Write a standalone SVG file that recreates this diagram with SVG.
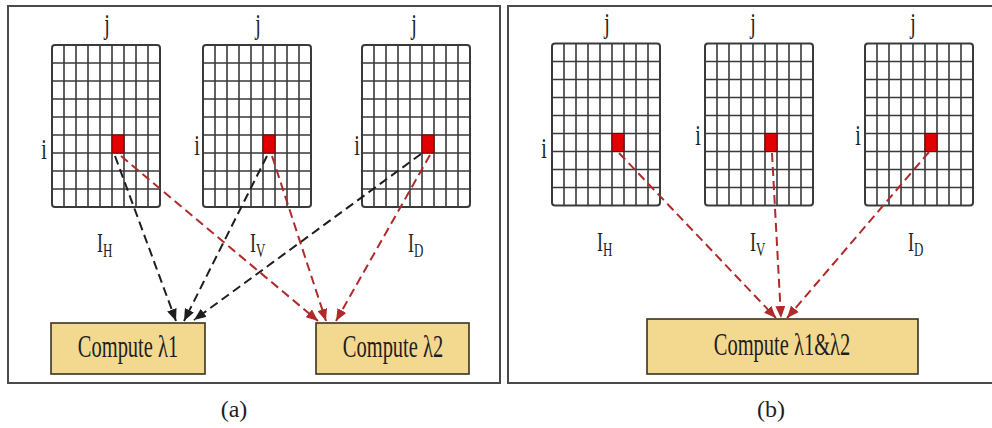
<svg xmlns="http://www.w3.org/2000/svg" xmlns:xlink="http://www.w3.org/1999/xlink" width="992" height="428" viewBox="0 0 992 428">
<style>
.frame{fill:#fff;stroke:#4a4a4a;stroke-width:2}
.gridline{fill:none;stroke:#3a3a3a;stroke-width:1.6}
.gborder{fill:#fff;stroke:#3a3a3a;stroke-width:2}
.px{fill:#e30000;stroke:#7a0000;stroke-width:1}
.t{font-family:"Liberation Serif","Times New Roman",serif;fill:#1e1e1e}
.box{fill:#f3d88f;stroke:#3a3320;stroke-width:1.6}
.blk{fill:none;stroke:#1e1e1e;stroke-width:2;stroke-dasharray:9 5}
.red{fill:none;stroke:#b02a2a;stroke-width:2;stroke-dasharray:9 5}
</style>
<defs>
<g id="grid">
<rect class="gborder" x="0" y="0" width="108" height="162" rx="3"/>
<path class="gridline" d="M12,0V162M24,0V162M36,0V162M48,0V162M60,0V162M72,0V162M84,0V162M96,0V162M0,18H108M0,36H108M0,54H108M0,72H108M0,90H108M0,108H108M0,126H108M0,144H108"/>
<rect class="px" x="60" y="90" width="12" height="18"/>
</g>
<marker id="ab" viewBox="0 0 12 10" refX="12" refY="5" markerWidth="12" markerHeight="10" markerUnits="userSpaceOnUse" orient="auto"><path d="M0,0L12,5L0,10z" fill="#1e1e1e"/></marker>
<marker id="ar" viewBox="0 0 12 10" refX="12" refY="5" markerWidth="12" markerHeight="10" markerUnits="userSpaceOnUse" orient="auto"><path d="M0,0L12,5L0,10z" fill="#b02a2a"/></marker>
</defs>

<rect class="frame" x="8" y="6" width="492" height="377"/>
<rect class="frame" x="508" y="6" width="492" height="377"/>

<g id="panel-a">
<g id="a-IH">
<use xlink:href="#grid" x="52" y="45"/>
<text class="t" font-size="20" text-anchor="middle" transform="translate(107,34) scale(1,1.5)">j</text>
<text class="t" font-size="20" text-anchor="middle" transform="translate(44,159) scale(1,1.5)">i</text>
<text class="t" font-size="18" transform="translate(97,252) scale(1,1.5)">I<tspan font-size="13" dy="3.3">H</tspan></text>
</g>
<g id="a-IV">
<use xlink:href="#grid" x="203" y="45"/>
<text class="t" font-size="20" text-anchor="middle" transform="translate(258,34) scale(1,1.5)">j</text>
<text class="t" font-size="20" text-anchor="middle" transform="translate(197,155) scale(1,1.5)">i</text>
<text class="t" font-size="18" transform="translate(250,252) scale(1,1.5)">I<tspan font-size="13" dy="3.3">V</tspan></text>
</g>
<g id="a-ID">
<use xlink:href="#grid" x="362" y="45"/>
<text class="t" font-size="20" text-anchor="middle" transform="translate(414,34) scale(1,1.5)">j</text>
<text class="t" font-size="20" text-anchor="middle" transform="translate(357,155) scale(1,1.5)">i</text>
<text class="t" font-size="18" transform="translate(408,252) scale(1,1.5)">I<tspan font-size="13" dy="3.3">D</tspan></text>
</g>
<g id="a-L1">
<rect class="box" x="51" y="323" width="154" height="51"/>
<text class="t" font-size="20.5" text-anchor="middle" transform="translate(128,357) scale(1,1.5)">Compute λ1</text>
</g>
<g id="a-L2">
<rect class="box" x="316" y="323" width="153" height="51"/>
<text class="t" font-size="20.5" text-anchor="middle" transform="translate(393,357) scale(1,1.5)">Compute λ2</text>
</g>
</g>

<g id="panel-b">
<g id="b-IH">
<use xlink:href="#grid" x="552" y="43.5"/>
<text class="t" font-size="20" text-anchor="middle" transform="translate(607,33) scale(1,1.5)">j</text>
<text class="t" font-size="20" text-anchor="middle" transform="translate(544,158) scale(1,1.5)">i</text>
<text class="t" font-size="18" transform="translate(597,251) scale(1,1.5)">I<tspan font-size="13" dy="3.3">H</tspan></text>
</g>
<g id="b-IV">
<use xlink:href="#grid" x="705" y="43.5"/>
<text class="t" font-size="20" text-anchor="middle" transform="translate(753,33) scale(1,1.5)">j</text>
<text class="t" font-size="20" text-anchor="middle" transform="translate(698,145) scale(1,1.5)">i</text>
<text class="t" font-size="18" transform="translate(750,251) scale(1,1.5)">I<tspan font-size="13" dy="3.3">V</tspan></text>
</g>
<g id="b-ID">
<use xlink:href="#grid" x="865" y="43.5"/>
<text class="t" font-size="20" text-anchor="middle" transform="translate(913,33) scale(1,1.5)">j</text>
<text class="t" font-size="20" text-anchor="middle" transform="translate(858,145) scale(1,1.5)">i</text>
<text class="t" font-size="18" transform="translate(908,251) scale(1,1.5)">I<tspan font-size="13" dy="3.3">D</tspan></text>
</g>
<g id="b-L12">
<rect class="box" x="647" y="319" width="271" height="55"/>
<text class="t" font-size="20.5" text-anchor="middle" transform="translate(782,355) scale(1,1.5)">Compute λ1&amp;λ2</text>
</g>
</g>

<g id="connectors">
<path class="blk" d="M115,156L176,321" marker-end="url(#ab)"/>
<path class="blk" d="M267,156L184,321" marker-end="url(#ab)"/>
<path class="blk" d="M421,154L194,320" marker-end="url(#ab)"/>
<path class="red" d="M121,156L318,321" marker-end="url(#ar)"/>
<path class="red" d="M272,156L326,321" marker-end="url(#ar)"/>
<path class="red" d="M430,155L336,321" marker-end="url(#ar)"/>
<path class="red" d="M619,153L776,318" marker-end="url(#ar)"/>
<path class="red" d="M772,153L781,318" marker-end="url(#ar)"/>
<path class="red" d="M929,152L787,318" marker-end="url(#ar)"/>
</g>

<text class="t" font-size="24" text-anchor="middle" x="234" y="417">(a)</text>
<text class="t" font-size="24" text-anchor="middle" x="771" y="417">(b)</text>
</svg>
